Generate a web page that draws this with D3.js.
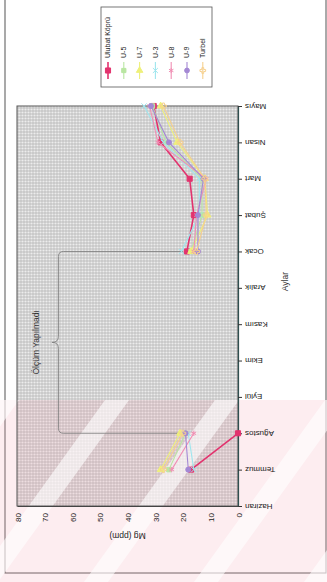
<!DOCTYPE html>
<html>
<head>
<meta charset="utf-8">
<script src="https://cdn.jsdelivr.net/npm/d3@7"></script>
<style>
  html, body { margin: 0; padding: 0; background: #ffffff; }
  svg { display: block; font-family: "Liberation Sans", Arial, sans-serif; }
</style>
</head>
<body>
<svg id="chart" width="327" height="582"></svg>
<script>
// Monthly Mg concentrations (ppm) at the sampling stations
const months = ["Haziran", "Temmuz", "Ağustos", "Eylül", "Ekim", "Kasım",
                "Aralık", "Ocak", "Şubat", "Mart", "Nisan", "Mayıs"];
const valueTicks = [0, 10, 20, 30, 40, 50, 60, 70, 80];

const ulubatKopru = [null, 17, 0, null, null, null, null, 18.5, 16, 17.5, 28, 30.5];
const u5          = [null, 25, 19, null, null, null, null, 17, 13, 13, 26, 31];
const u7          = [null, 28, 21, null, null, null, null, 17, 11, 12, 22, 28];
const u3          = [null, 16, 18, null, null, null, null, 20.5, 14, 14, 27, 34];
const u8          = [null, 24, 16, null, null, null, null, 16, 15, 11.5, 29, 32];
const u9          = [null, 18, 19, null, null, null, null, 14.5, 14.5, 12.5, 25, 31.5];
const turbel      = [null, 27, 20, null, null, null, null, 15, 11.5, 12, 21, 27];

const seriesNames = ["Ulubat Köprü", "U-5", "U-7", "U-3", "U-8", "U-9", "Turbel"];
const seriesValues = [ulubatKopru, u5, u7, u3, u8, u9, turbel];
const seriesColors = ["#e2336e", "#b9e6a2", "#eef07a", "#9fe6ee", "#f08fb4", "#a488d4", "#f6d08e"];
const seriesSymbols = [d3.symbolSquare, d3.symbolSquare, d3.symbolTriangle, d3.symbolTimes,
                       d3.symbolAsterisk, d3.symbolCircle, d3.symbolCross];

const svg = d3.select("#chart");
const defs = svg.append("defs");

// stippled grey plot background
const pat = defs.append("pattern").attr("id", "stipple")
  .attr("width", 3).attr("height", 3).attr("patternUnits", "userSpaceOnUse");
pat.append("rect").attr("width", 3).attr("height", 3).attr("fill", "#c6c6c6");
pat.append("circle").attr("cx", 1.5).attr("cy", 1.5).attr("r", 1.1).attr("fill", "#ececec");

// Scales: months run up the page, values run right-to-left
const y = d3.scalePoint().domain(months).range([506, 106]);
const x = d3.scaleLinear().domain([0, 80]).range([238, 17]);

// outer frame
svg.append("rect").attr("x", 5).attr("y", -5).attr("width", 321).attr("height", 578)
  .attr("fill", "none").attr("stroke", "#555").attr("stroke-width", 1);

// plot area
svg.append("rect")
  .attr("x", x(80)).attr("y", y("Mayıs"))
  .attr("width", x(0) - x(80)).attr("height", y("Haziran") - y("Mayıs"))
  .attr("fill", "url(#stipple)");

// translucent diagonal band overlay across the lower part of the sheet
defs.append("clipPath").attr("id", "wmclip")
  .append("rect").attr("x", 0).attr("y", 400).attr("width", 327).attr("height", 182);
const wmg = svg.append("g").attr("clip-path", "url(#wmclip)").attr("pointer-events", "none");
wmg.append("rect").attr("x", 0).attr("y", 400).attr("width", 327).attr("height", 182)
  .attr("fill", "#f4a6b4").attr("opacity", 0.2);
const slope = 0.72, period = 110, bandW = 24;
for (let k = -3; k <= 4; k++) {
  const xc = 40 + k * period; // band centre at y = 507
  const xAt = yy => xc + slope * (507 - yy);
  const poly = [[xAt(400) - bandW / 2, 400], [xAt(400) + bandW / 2, 400],
                [xAt(582) + bandW / 2, 582], [xAt(582) - bandW / 2, 582]];
  wmg.append("polygon").attr("points", poly.map(p => p.join(",")).join(" "))
    .attr("fill", "#ffffff").attr("opacity", 0.6);
}

// plot border
svg.append("rect")
  .attr("x", x(80)).attr("y", y("Mayıs"))
  .attr("width", x(0) - x(80)).attr("height", y("Haziran") - y("Mayıs"))
  .attr("fill", "none").attr("stroke", "#555").attr("stroke-width", 1);

// month axis
const monthAxis = svg.append("g")
  .attr("transform", `translate(${x(0)},0)`)
  .call(d3.axisRight(y).tickSize(4).tickSizeOuter(0));
monthAxis.select(".domain").attr("stroke", "#2f5050").attr("stroke-width", 1.2);
monthAxis.selectAll(".tick line").attr("stroke", "#333");
monthAxis.selectAll(".tick text")
  .attr("x", 0).attr("dy", null)
  .attr("text-anchor", "end")
  .attr("transform", "translate(7,-3) rotate(180)")
  .attr("font-size", 8).attr("fill", "#222")
  .attr("font-family", "Liberation Sans, Arial, sans-serif");

// value axis
const valueAxis = svg.append("g")
  .attr("transform", `translate(0,${y("Haziran")})`)
  .call(d3.axisBottom(x).tickValues(valueTicks).tickSize(0).tickSizeOuter(0));
valueAxis.select(".domain").attr("stroke", "#444");
valueAxis.selectAll(".tick text")
  .attr("y", 0).attr("dy", null)
  .attr("text-anchor", "end")
  .attr("transform", "translate(3,7) rotate(-90)")
  .attr("font-size", 8).attr("fill", "#222")
  .attr("font-family", "Liberation Sans, Arial, sans-serif");

// axis titles
svg.append("text")
  .attr("transform", `translate(${x(40)},${y("Haziran") + 27}) rotate(180)`)
  .attr("text-anchor", "middle").attr("font-size", 8.5).attr("fill", "#222")
  .text("Mg (ppm)");
svg.append("text")
  .attr("transform", `translate(288,${(y("Ocak") + y("Aralık")) / 2 + 12}) rotate(-90)`)
  .attr("text-anchor", "middle").attr("font-size", 8.5).attr("fill", "#333")
  .text("Aylar");

// bracket over the months without measurements
const yTop = y("Ocak"), yBot = y("Ağustos"), ym = (yTop + yBot) / 2;
const xArm = x(20), xV = x(65), xTip = x(67.3), r = 5;
const brace = `M${xArm},${yTop} L${xV + r},${yTop} Q${xV},${yTop} ${xV},${yTop + r}
  L${xV},${ym - 6} Q${xV},${ym} ${xTip},${ym} Q${xV},${ym} ${xV},${ym + 6}
  L${xV},${yBot - r} Q${xV},${yBot} ${xV + r},${yBot} L${xArm},${yBot}`;
svg.append("path").attr("d", brace).attr("fill", "none")
  .attr("stroke", "#7a7a7a").attr("stroke-width", 0.8);
svg.append("text")
  .attr("transform", `translate(${x(72.2)},${ym}) rotate(-90)`)
  .attr("text-anchor", "middle").attr("font-size", 8.5).attr("fill", "#333")
  .text("Ölçüm Yapılmadı");

// series lines and markers
const line = d3.line()
  .defined(d => d.v !== null)
  .x(d => x(d.v)).y(d => y(d.m));

seriesValues.forEach((vals, i) => {
  const pts = vals.map((v, j) => ({ m: months[j], v }));
  const g = svg.append("g");
  g.append("path").datum(pts)
    .attr("d", line).attr("fill", "none")
    .attr("stroke", seriesColors[i]).attr("stroke-width", i === 0 ? 1.6 : 1.1);
  const sym = d3.symbol().type(seriesSymbols[i]).size(i === 0 ? 26 : 20);
  g.selectAll("path.mk").data(pts.filter(d => d.v !== null)).join("path")
    .attr("class", "mk")
    .attr("d", sym)
    .attr("transform", d => `translate(${x(d.v)},${y(d.m)})`)
    .attr("fill", [3, 4, 6].includes(i) ? "none" : seriesColors[i])
    .attr("stroke", seriesColors[i]).attr("stroke-width", 1);
});

// legend
const legend = svg.append("g");
legend.append("rect").attr("x", 101).attr("y", 7).attr("width", 111).attr("height", 80)
  .attr("fill", "#fff").attr("stroke", "#555").attr("stroke-width", 0.8);
seriesNames.forEach((name, i) => {
  const lx = 108 + i * 15.8;
  legend.append("line").attr("x1", lx).attr("x2", lx).attr("y1", 62).attr("y2", 79)
    .attr("stroke", seriesColors[i]).attr("stroke-width", i === 0 ? 1.6 : 1.1);
  legend.append("path")
    .attr("d", d3.symbol().type(seriesSymbols[i]).size(i === 0 ? 26 : 18))
    .attr("transform", `translate(${lx},70.5)`)
    .attr("fill", [3, 4, 6].includes(i) ? "none" : seriesColors[i])
    .attr("stroke", seriesColors[i]).attr("stroke-width", 1);
  legend.append("text")
    .attr("transform", `translate(${lx},58) rotate(-90)`)
    .attr("dy", "0.35em").attr("font-size", 7).attr("fill", "#222")
    .text(name);
});
</script>
</body>
</html>
